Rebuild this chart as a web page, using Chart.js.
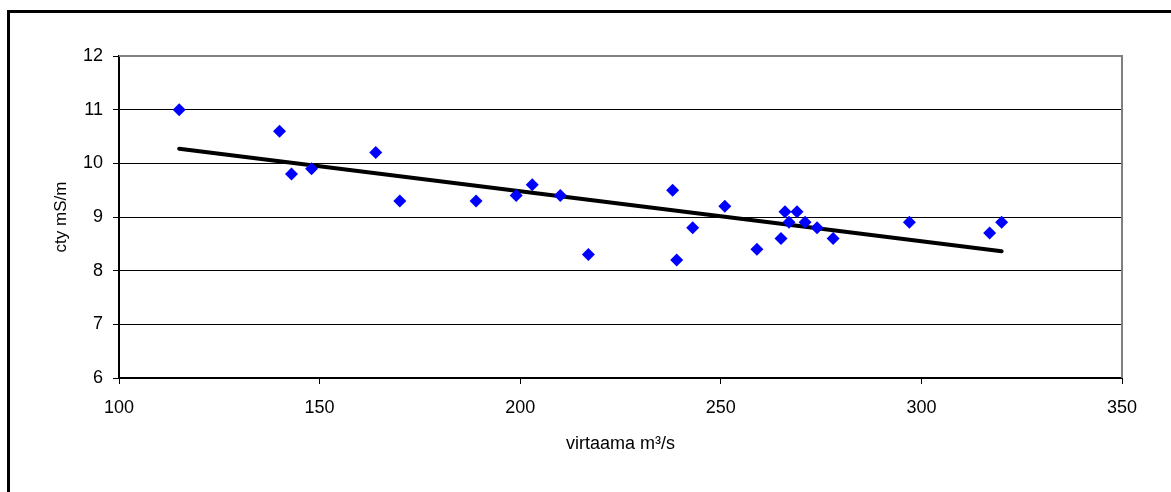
<!DOCTYPE html>
<html>
<head>
<meta charset="utf-8">
<script src="https://cdn.jsdelivr.net/npm/chart.js@4/dist/chart.umd.min.js"></script>
<style>
  html, body { margin: 0; padding: 0; overflow: hidden; background: #fff; }
  #frame { position: absolute; left: 7px; top: 10px; width: 1220px; height: 540px; border: 3px solid #000; }
  #wrap { position: absolute; left: 0; top: 0; width: 1171px; height: 492px; }
</style>
</head>
<body>
<div id="frame"></div>
<div id="wrap"><canvas id="chart" width="1171" height="492"></canvas></div>
<script>
// virtaama (m3/s) vs. cty (mS/m)
const flowX = [115, 140, 143, 148, 164, 170, 189, 199, 203, 210, 217, 238, 239, 243, 251, 259, 265, 266, 267, 269, 271, 274, 278, 297, 317, 320];
const condY = [11.0, 10.6, 9.8, 9.9, 10.2, 9.3, 9.3, 9.4, 9.6, 9.4, 8.3, 9.5, 8.2, 8.8, 9.2, 8.4, 8.6, 9.1, 8.9, 9.1, 8.9, 8.8, 8.6, 8.9, 8.7, 8.9];

// linear trend line end points
const trendX = [115, 320];
const trendY = [10.27, 8.36];

const xTicks = [100, 150, 200, 250, 300, 350];
const yTicks = [6, 7, 8, 9, 10, 11, 12];

const FONT = 'Liberation Sans, Arial, sans-serif';

// gray frame on top and right of the plot area
const plotFrame = {
  id: 'plotFrame',
  afterDraw(chart) {
    const { ctx, chartArea: a } = chart;
    ctx.save();
    ctx.strokeStyle = '#808080';
    ctx.lineWidth = 2;
    ctx.beginPath();
    ctx.moveTo(a.left, a.top);
    ctx.lineTo(a.right, a.top);
    ctx.lineTo(a.right, a.bottom);
    ctx.stroke();
    ctx.restore();
  }
};

new Chart(document.getElementById('chart'), {
  type: 'scatter',
  data: {
    datasets: [
      {
        label: 'cty',
        data: flowX.map((x, i) => ({ x, y: condY[i] })),
        pointStyle: 'rectRot',
        pointRadius: 6.5,
        pointBorderWidth: 0,
        backgroundColor: '#0000ff',
        borderColor: '#0000ff',
      },
      {
        type: 'line',
        label: 'trend',
        data: trendX.map((x, i) => ({ x, y: trendY[i] })),
        borderColor: '#000',
        borderWidth: 4,
        borderCapStyle: 'round',
        pointRadius: 0,
        fill: false,
      },
    ],
  },
  options: {
    responsive: false,
    animation: false,
    layout: { padding: { left: 0, top: 56, right: 49, bottom: 0 } },
    plugins: { legend: { display: false }, tooltip: { enabled: false } },
    scales: {
      x: {
        type: 'linear',
        min: 100,
        max: 350,
        afterFit: s => { s.height = 114; },
        afterBuildTicks: s => { s.ticks = xTicks.map(v => ({ value: v })); },
        ticks: { color: '#000', font: { family: FONT, size: 18 }, padding: 13 },
        grid: { drawOnChartArea: false, tickLength: 6, tickColor: '#000', tickWidth: 1 },
        border: { color: '#000', width: 2 },
        title: { display: true, text: 'virtaama m³/s', color: '#000', font: { family: FONT, size: 18 }, padding: { top: 0, bottom: 37 } },
      },
      y: {
        min: 6,
        max: 12,
        afterFit: s => { s.width = 119; },
        afterBuildTicks: s => { s.ticks = yTicks.map(v => ({ value: v })); },
        ticks: { color: '#000', font: { family: FONT, size: 18 }, padding: 10 },
        grid: {
          color: c => (c.tick && c.tick.value === 12 ? '#808080' : '#000'),
          lineWidth: 1,
          tickLength: 6,
          tickColor: '#000',
        },
        border: { color: '#000', width: 2 },
        title: { display: true, text: 'cty mS/m', color: '#000', font: { family: FONT, size: 17 }, padding: { top: 51, bottom: 0 } },
      },
    },
  },
  plugins: [plotFrame],
});
</script>
</body>
</html>
